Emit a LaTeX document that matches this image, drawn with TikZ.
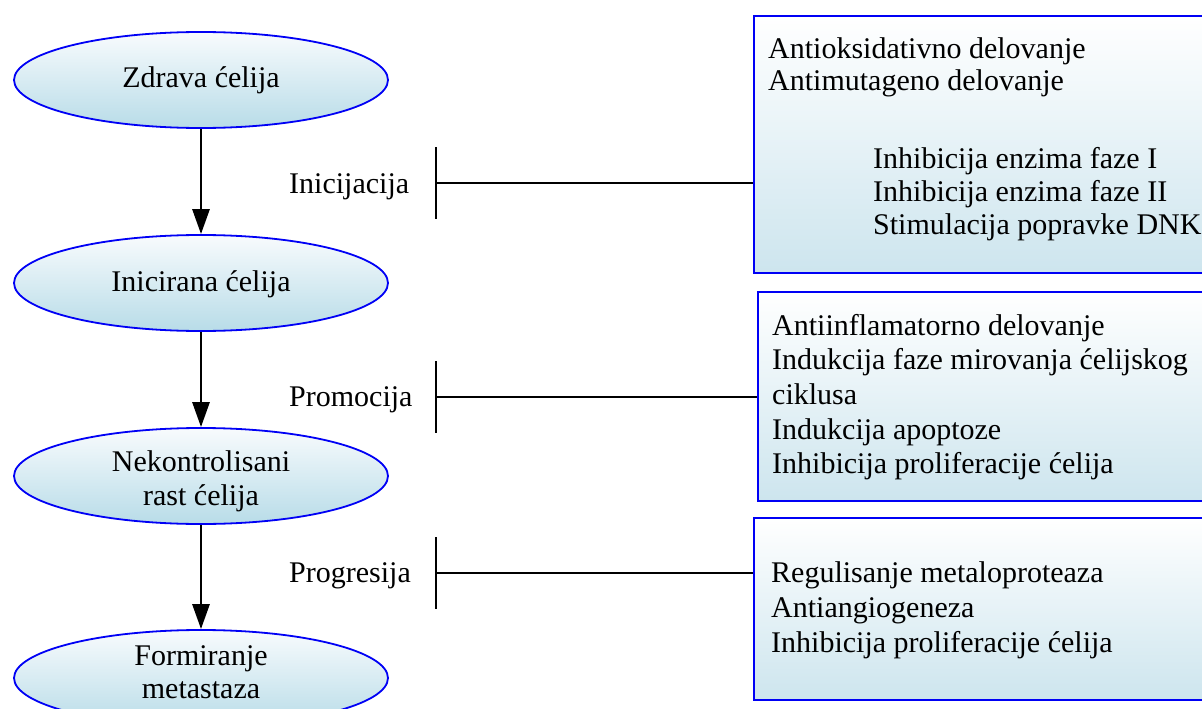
\documentclass[tikz,border=0pt]{standalone}
\usepackage{fontspec}
\setmainfont{Liberation Serif}
\usetikzlibrary{shapes.geometric,arrows.meta,calc}

\definecolor{rim}{RGB}{0,0,245}
\definecolor{celltop}{RGB}{248,251,253}
\definecolor{cellbot}{RGB}{184,220,232}
\definecolor{panelbot}{RGB}{205,229,238}

\begin{document}
\begin{tikzpicture}[x=1pt,y=-1pt,
  cell/.style={ellipse, draw=rim, line width=1.8pt,
    minimum width=374pt, minimum height=96pt, inner sep=0pt,
    top color=celltop, bottom color=cellbot},
  panel/.style={rectangle, draw=rim, line width=1.8pt, anchor=north west,
    inner sep=0pt, top color=white, bottom color=panelbot},
  txt/.style={anchor=base west, inner sep=0pt, font=\fontsize{30}{34}\selectfont},
  ctxt/.style={anchor=base, inner sep=0pt, font=\fontsize{30}{34}\selectfont},
  flow/.style={line width=2.8pt, -{Triangle[width=17pt,length=25pt]}},
  bar/.style={line width=2.8pt}
]
\clip (0,0) rectangle (1202,709);

% stages of carcinogenesis
\node[cell] (c1) at (201,80)  {};
\node[cell] (c2) at (201,283) {};
\node[cell] (c3) at (201,476) {};
\node[cell] (c4) at (201,678) {};

\node[ctxt] (c1a) at (201,88)  {Zdrava ćelija};
\node[ctxt] (c2a) at (201,291) {Inicirana ćelija};
\node[ctxt] (c3a) at (201,471) {Nekontrolisani};
\node[ctxt] (c3b) at (201,505) {rast ćelija};
\node[ctxt] (c4a) at (201,665) {Formiranje};
\node[ctxt] (c4b) at (201,698) {metastaza};

\draw[flow] (c1) -- (c2);
\draw[flow] (c2) -- (c3);
\draw[flow] (c3) -- (c4);

% phase labels
\node[txt] (l1) at (289,193) {Inicijacija};
\node[txt] (l2) at (289,406) {Promocija};
\node[txt] (l3) at (289,582) {Progresija};

% mechanism panels
\node[panel, minimum width=487pt, minimum height=257pt] (p1) at (753,15) {};
\node[panel, minimum width=483pt, minimum height=209pt] (p2) at (757,291) {};
\node[panel, minimum width=487pt, minimum height=182pt] (p3) at (753,517) {};

\node[txt] (p1a) at (768,59)  {Antioksidativno delovanje};
\node[txt] (p1b) at (768,91)  {Antimutageno delovanje};
\node[txt] (p1c) at (873,168) {Inhibicija enzima faze I};
\node[txt] (p1d) at (873,201) {Inhibicija enzima faze II};
\node[txt] (p1e) at (873,234) {Stimulacija popravke DNK};

\node[txt] (p2a) at (772,335) {Antiinflamatorno delovanje};
\node[txt] (p2b) at (772,369) {Indukcija faze mirovanja ćelijskog};
\node[txt] (p2c) at (772,404) {ciklusa};
\node[txt] (p2d) at (772,439) {Indukcija apoptoze};
\node[txt] (p2e) at (772,473) {Inhibicija proliferacije ćelija};

\node[txt] (p3a) at (771,582) {Regulisanje metaloproteaza};
\node[txt] (p3b) at (771,617) {Antiangiogeneza};
\node[txt] (p3c) at (771,652) {Inhibicija proliferacije ćelija};

% inhibition connectors
\coordinate (t1) at (436,183);
\coordinate (t2) at (436,397);
\coordinate (t3) at (436,573);
\foreach \t/\p in {t1/p1, t2/p2, t3/p3}{
  \draw[bar] ($(\t)+(0,-36)$) -- ($(\t)+(0,36)$);
  \draw[bar] (\t) -- (\p.west |- \t);
}
\end{tikzpicture}
\end{document}
